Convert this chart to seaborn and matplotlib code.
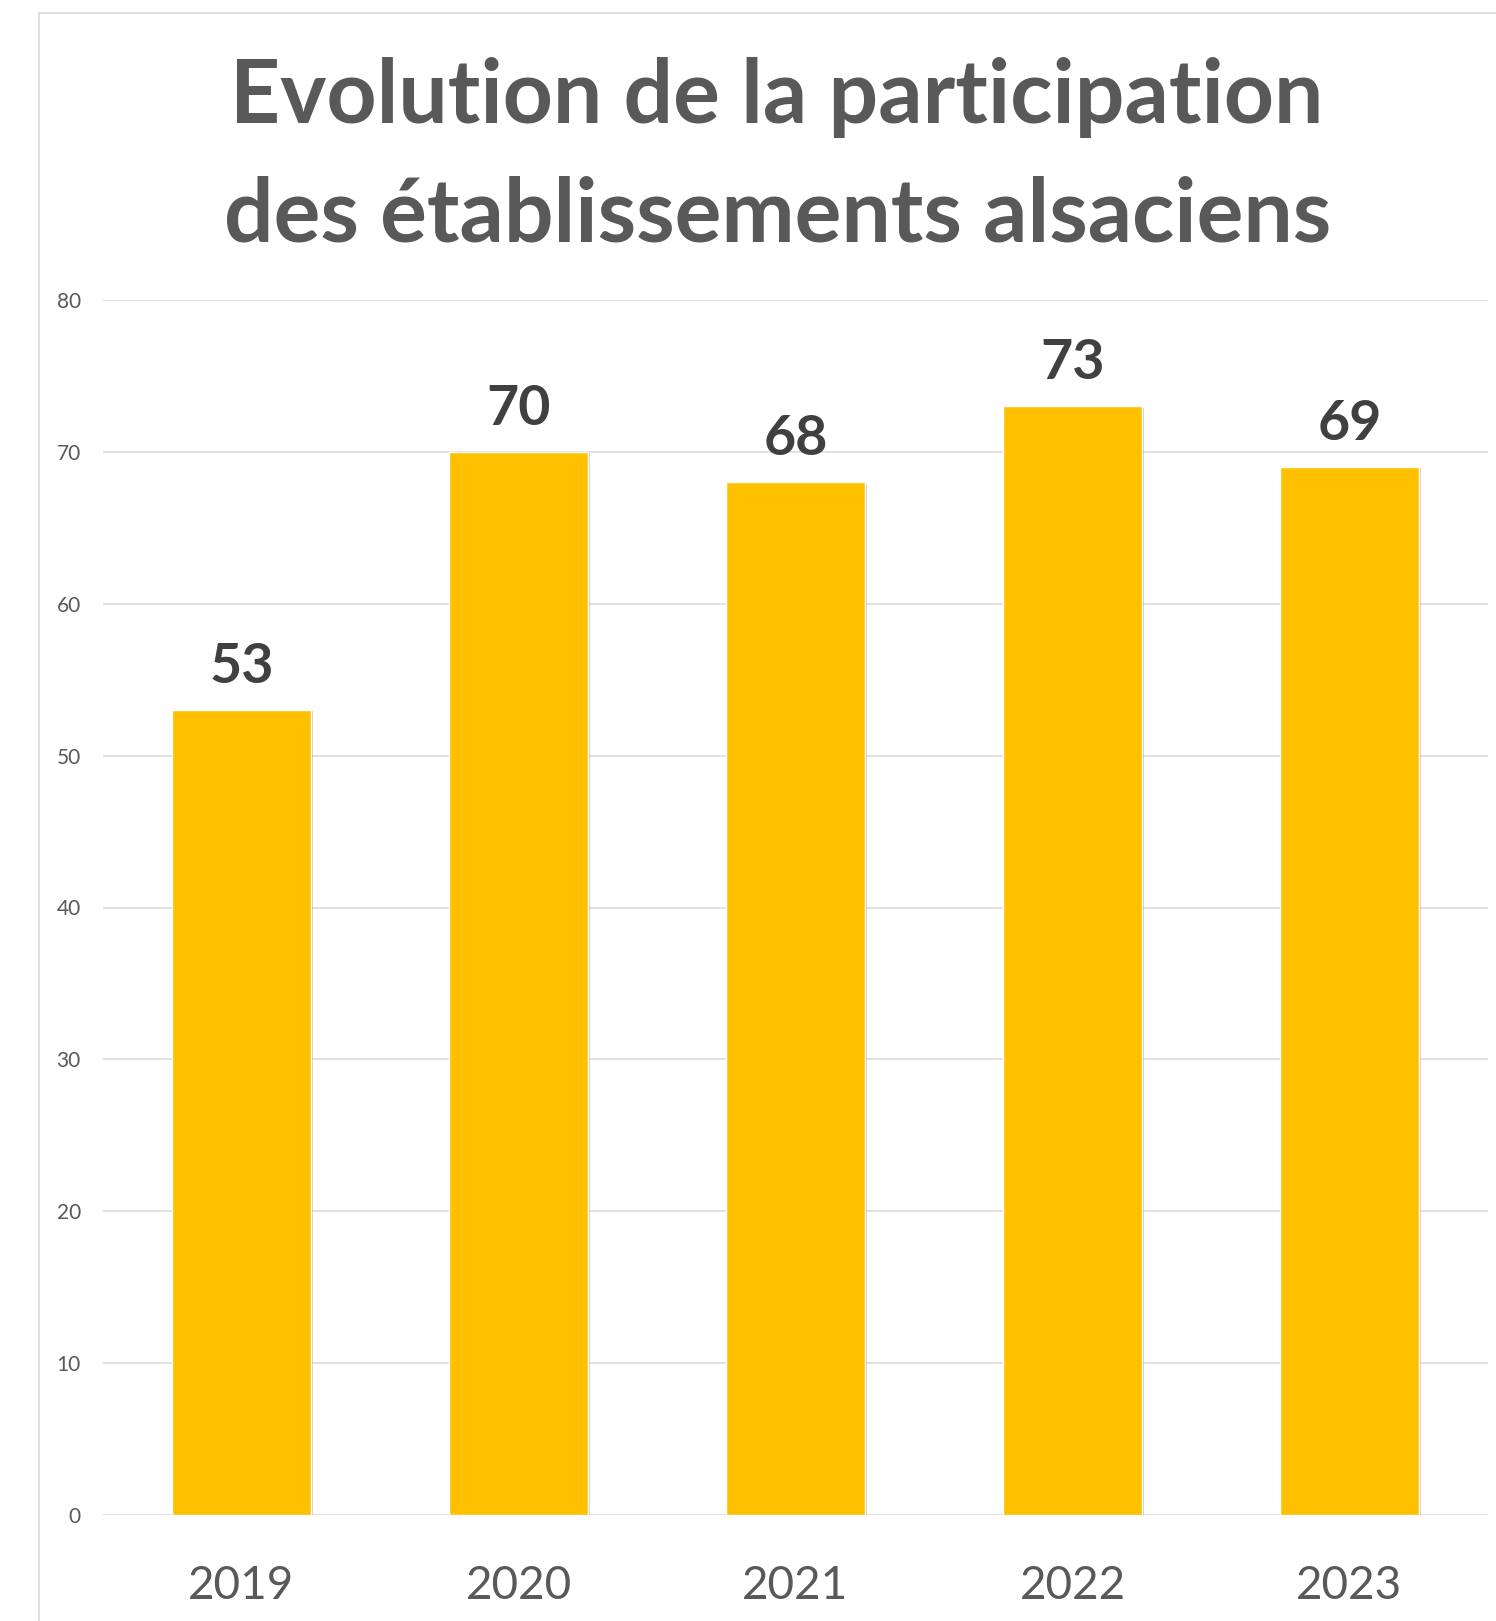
import matplotlib
matplotlib.use('Agg')
import matplotlib.pyplot as plt
import matplotlib.patheffects as pe
from matplotlib.patches import Rectangle
import pandas as pd
import seaborn as sns

# données
annees = ['2019', '2020', '2021', '2022', '2023']
participations = [53, 70, 68, 73, 69]
yticks = [0, 10, 20, 30, 40, 50, 60, 70, 80]

df = pd.DataFrame({'annee': annees, 'participation': participations})

sns.set_style('white')
plt.rcParams['font.family'] = ['Lato', 'DejaVu Sans']

W, H = 1496, 1621
fig = plt.figure(figsize=(W / 100, H / 100), dpi=100)
ax = fig.add_axes([103 / W, 1 - 1515 / H, (1488 - 103) / W, (1515 - 300) / H])

sns.barplot(data=df, x='annee', y='participation', color='#FFC000',
            saturation=1, width=0.5, ax=ax)

for p in ax.patches:
    p.set_path_effects([pe.SimplePatchShadow(offset=(1.5, -1), shadow_rgbFace='#808080', alpha=0.4),
                        pe.Normal()])

ax.bar_label(ax.containers[0], padding=13, fontsize=40, fontweight='bold', color='#404040')

ax.set_ylim(0, 80)
ax.set_xlim(-0.5, 4.5)
ax.set_yticks(yticks)
ax.yaxis.grid(True, color='#D9D9D9', linewidth=1.1)
ax.set_axisbelow(True)
sns.despine(ax=ax, left=True, bottom=True)
ax.set_xlabel('')
ax.set_ylabel('')
ax.tick_params(axis='x', length=0, pad=36, labelsize=33, labelcolor='#595959')
ax.tick_params(axis='y', length=0, pad=16, labelsize=15, labelcolor='#595959')

# titre sur deux lignes
fig.text(777 / W, 1 - 123 / H, 'Evolution de la participation', ha='center', va='baseline',
         fontsize=63, fontweight='bold', color='#595959')
fig.text(778 / W, 1 - 242 / H, 'des établissements alsaciens', ha='center', va='baseline',
         fontsize=63, fontweight='bold', color='#595959')

# cadre du graphique
fig.patches.append(Rectangle((39 / W, -0.1), 1.2, 1.1 - 13 / H, transform=fig.transFigure,
                             fill=False, edgecolor='#D9D9D9', linewidth=1.2))

plt.savefig('out.png', dpi=100)
